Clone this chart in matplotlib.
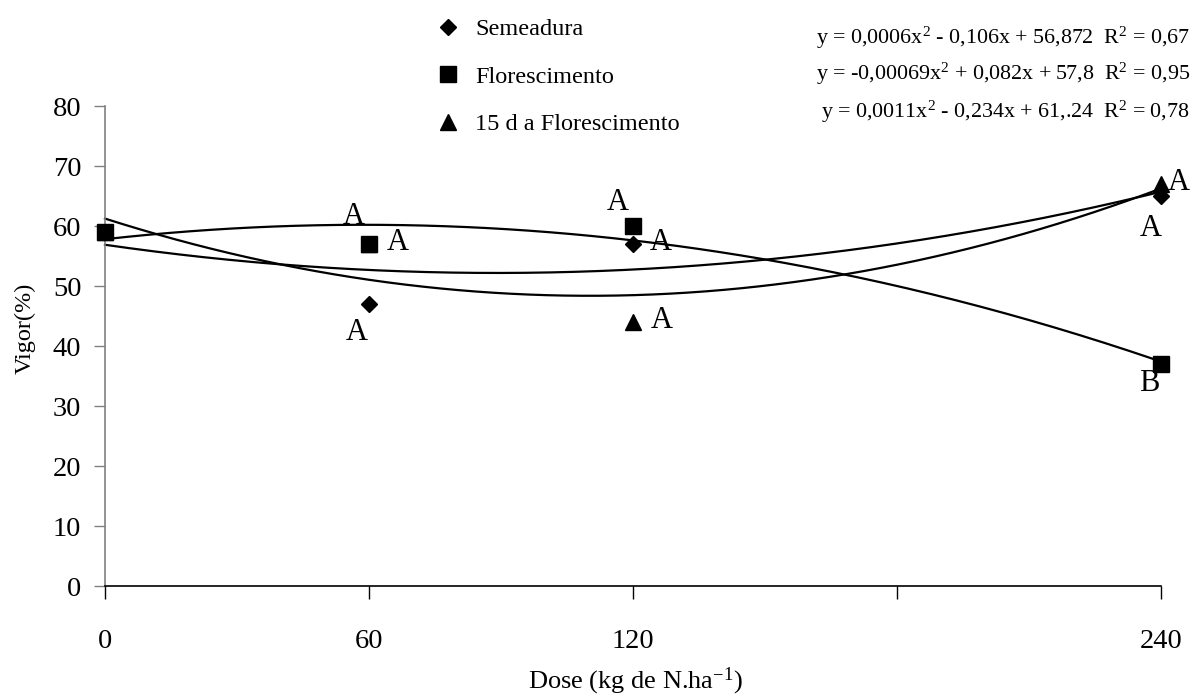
import numpy as np
import matplotlib
matplotlib.use("Agg")
import matplotlib.pyplot as plt

plt.rcParams['font.family'] = ['Liberation Serif', 'DejaVu Serif']
plt.rcParams['mathtext.fontset'] = 'custom'
plt.rcParams['mathtext.rm'] = 'Liberation Serif'
plt.rcParams['mathtext.it'] = 'Liberation Serif:italic'

# ---- data ----
doses = [0, 60, 120, 240]
semeadura = [59, 47, 57, 65]
florescimento = [59, 57, 60, 37]
quinze_d = [59, 57, 44, 67]
series_names = ["Semeadura", "Florescimento", "15 d a Florescimento"]
equations = [
    "y = 0,0006x$^2$ - 0,106x + 56,872  R$^2$ = 0,67",
    "y = -0,00069x$^2$ + 0,082x + 57,8  R$^2$ = 0,95",
    "y = 0,0011x$^2$ - 0,234x + 61,.24  R$^2$ = 0,78",
]
xticks = [0, 60, 120, 180, 240]
xticklabels = ["0", "60", "120", "", "240"]
yticks = [0, 10, 20, 30, 40, 50, 60, 70, 80]
# significance letters: (x, y, text)
letter_x = [56.6, 66.6, 57.3, 116.6, 126.4, 126.6, 244.1, 237.7, 237.3]
letter_y = [61.5, 57.2, 42.3, 64.0, 57.2, 44.2, 67.3, 59.5, 33.7]
letter_t = ["A", "A", "A", "A", "A", "A", "A", "A", "B"]

fig = plt.figure(figsize=(11.94, 6.99), dpi=100)
ax = fig.add_axes([105/1194, 1-586/699, (1161-105)/1194, (586-106)/699])

x_fine = np.linspace(0, 240, 300)
for yvals in (semeadura, florescimento, quinze_d):
    coef = np.polyfit(doses, yvals, 2)
    ax.plot(x_fine, np.polyval(coef, x_fine), color='black', lw=1.6, zorder=2, clip_on=False)

h3, = ax.plot(doses, quinze_d, linestyle='none', marker='^', ms=11.5, color='black',
              label=series_names[2], zorder=3, clip_on=False)
h1, = ax.plot(doses, semeadura, linestyle='none', marker='D', ms=8.2, color='black',
              label=series_names[0], zorder=4, clip_on=False)
h2, = ax.plot(doses, florescimento, linestyle='none', marker='s', ms=11.5, color='black',
              label=series_names[1], zorder=5, clip_on=False)

for lx, ly, lt in zip(letter_x, letter_y, letter_t):
    ax.text(lx, ly, lt, fontsize=22, ha='center', va='center', zorder=6)

ax.set_xlim(0, 240)
ax.set_ylim(0, 80)
ax.set_xticks(xticks)
ax.set_xticklabels(xticklabels)
ax.set_yticks(yticks)
ax.tick_params(axis='x', labelsize=20.5, length=9, width=1, colors='black', pad=22, direction='out')
ax.tick_params(axis='y', labelsize=20.5, length=8, width=1, color='#808080', pad=9, direction='out')
for s in ('top', 'right'):
    ax.spines[s].set_visible(False)
ax.spines['left'].set_color('#808080')
ax.spines['left'].set_linewidth(1.2)
ax.spines['bottom'].set_color('black')
ax.spines['bottom'].set_linewidth(1.2)

fig.text(635/1194, 1-681/699, "Dose (kg de N.ha$^{-1}$)", fontsize=19, ha='center', va='center')
fig.text(25/1194, 1-328/699, "Vigor(%)", fontsize=17.5, ha='center', va='center', rotation=90)

leg = ax.legend(handles=[h1, h2, h3], loc='upper left', bbox_to_anchor=(419/1194, 1.0 - 1/699),
                bbox_transform=fig.transFigure, frameon=False, fontsize=17.5,
                labelspacing=1.05, handletextpad=0.6, handlelength=1.0, borderpad=0.2)

eq_y = [38, 74, 112]
for eq, ypx in zip(equations, eq_y):
    fig.text(1190/1194, 1-ypx/699, eq, fontsize=15.8, ha='right', va='center')

fig.savefig("out.png", dpi=100)
